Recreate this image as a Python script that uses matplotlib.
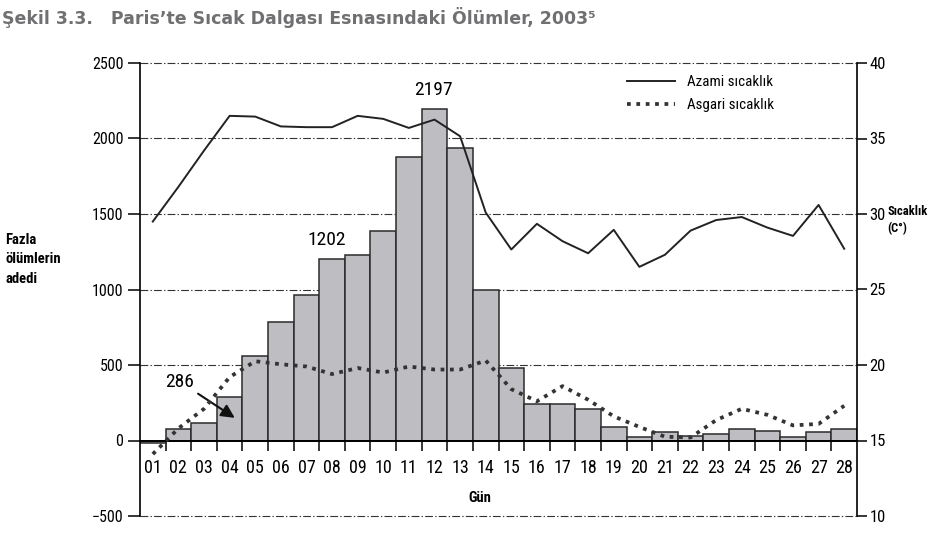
import matplotlib
matplotlib.use('Agg')
import matplotlib.pyplot as plt
from matplotlib import font_manager

# data (Paris, August 2003)
day_labels = ['01', '02', '03', '04', '05', '06', '07', '08', '09', '10',
              '11', '12', '13', '14', '15', '16', '17', '18', '19', '20',
              '21', '22', '23', '24', '25', '26', '27', '28']
days = list(range(1, 29))
excess_deaths = [-18, 75, 115, 286, 560, 785, 965, 1202, 1230, 1390,
                 1875, 2197, 1935, 995, 482, 240, 240, 210, 90, 25,
                 55, 30, 45, 75, 65, 20, 55, 75]
max_temp = [29.5, 31.8, 34.2, 36.5, 36.45, 35.8, 35.75, 35.75, 36.5, 36.3,
            35.7, 36.25, 35.15, 30.1, 27.65, 29.35, 28.2, 27.4, 28.95, 26.5,
            27.3, 28.9, 29.6, 29.8, 29.1, 28.55, 30.6, 27.7]
min_temp = [14.1, 15.8, 17.1, 19.2, 20.25, 20.05, 19.9, 19.4, 19.8, 19.5,
            19.9, 19.7, 19.7, 20.3, 18.4, 17.6, 18.6, 17.7, 16.6, 15.9,
            15.25, 15.2, 16.35, 17.1, 16.7, 16.0, 16.1, 17.3]
death_ticks = [-500, 0, 500, 1000, 1500, 2000, 2500]
temp_ticks = [10, 15, 20, 25, 30, 35, 40]

# pick a narrow font if there is one
fonts = font_manager.fontManager.ttflist
names = {f.name for f in fonts}
k = 1.0
if 'Liberation Sans Narrow' in names:
    plt.rcParams['font.family'] = ['Liberation Sans Narrow', 'DejaVu Sans']
elif 'Roboto Condensed' in names:
    plt.rcParams['font.family'] = ['Roboto Condensed', 'DejaVu Sans']
elif any('DejaVuSansCondensed' in f.fname for f in fonts):
    plt.rcParams['font.family'] = ['DejaVu Sans']
    plt.rcParams['font.stretch'] = 'condensed'
    k = 0.92
else:
    plt.rcParams['font.family'] = ['Roboto', 'DejaVu Sans']
    k = 0.88

W, H = 946, 537
fig = plt.figure(figsize=(W / 100, H / 100), dpi=100)
ax = fig.add_axes([140 / W, 1 - 516 / H, (857 - 140) / W, (516 - 63) / H])

# bars
ax.bar(days, excess_deaths, width=1.0, color='#bdbdc2', edgecolor='#2b2b2b',
       linewidth=1.1, zorder=2)
ax.set_xlim(0.5, 28.5)
ax.set_ylim(-500, 2500)
ax.set_yticks(death_ticks)
for v in [2500, 2000, 1500, 1000, 500, -500]:
    ax.axhline(v, color='#333333', linestyle=(0, (7, 2, 1.2, 2)),
               linewidth=0.8, zorder=0, clip_on=False)

ax.spines['top'].set_visible(False)
ax.spines['right'].set_visible(False)
ax.spines['bottom'].set_position(('data', 0))
ax.spines['bottom'].set_linewidth(1.4)
ax.spines['left'].set_linewidth(1.2)

ax.set_xticks(days)
ax.set_xticklabels(day_labels)
ax.tick_params(axis='x', which='major', length=0, pad=13, labelsize=13 * k)
ax.set_xticks([d + 0.5 for d in days[:-1]], minor=True)
ax.tick_params(axis='x', which='minor', length=7, width=1.1, direction='out')
ax.tick_params(axis='y', length=9, width=1.1, direction='out', pad=3,
               labelsize=11.5 * k)

# temperature axis
ax2 = ax.twinx()
ax2.set_ylim(10, 40)
ax2.set_yticks(temp_ticks)
for s in ['top', 'left', 'bottom']:
    ax2.spines[s].set_visible(False)
ax2.spines['right'].set_linewidth(1.2)
ax2.tick_params(axis='y', length=7, width=1.1, direction='out', pad=2,
                labelsize=12 * k)

ax2.plot(days, max_temp, color='#222222', lw=1.4, label='Azami sıcaklık')
ax2.plot(days, min_temp, color='#333333', lw=2.7, linestyle=(0, (1, 1.5)),
         label='Asgari sıcaklık')
ax2.legend(loc='upper left', bbox_to_anchor=(627 / W, 1 - 75 / H),
           bbox_transform=fig.transFigure, frameon=False, fontsize=10.8 * k,
           handlelength=3.2, handletextpad=0.8, labelspacing=0.6,
           borderpad=0, borderaxespad=0)

# value labels
ax.annotate('2197', xy=(12, 2197), xytext=(-1, 7), textcoords='offset points',
            ha='center', va='bottom', fontsize=14 * k)
ax.annotate('1202', xy=(8, 1202), xytext=(-4, 7), textcoords='offset points',
            ha='center', va='bottom', fontsize=14 * k)
ax.annotate('286', xy=(4.2, 150), xytext=(2.05, 390), ha='center', va='center',
            fontsize=14 * k,
            arrowprops=dict(arrowstyle='-|>', color='#111111', lw=1.5,
                            mutation_scale=20, shrinkA=1, shrinkB=0))

# axis titles
fig.text(5 / W, 1 - 233 / H, 'Fazla\nölümlerin\nadedi', ha='left', va='top',
         fontsize=10.5 * k, fontweight='bold', linespacing=1.5)
fig.text(887 / W, 1 - 205 / H, 'Sıcaklık\n(C°)', ha='left', va='top',
         fontsize=9 * k, fontweight='bold', linespacing=1.4)
fig.text(480 / W, 1 - 498 / H, 'Gün', ha='center', va='center',
         fontsize=10.5 * k, fontweight='bold')

fig.text(2 / W, 1 - 17 / H,
         'Şekil 3.3.   Paris’te Sıcak Dalgası Esnasındaki Ölümler, 2003⁵',
         ha='left', va='center', fontsize=12.5, fontweight='bold',
         color='#707072', family='DejaVu Sans', stretch='normal')

fig.savefig('out.png', dpi=100)
